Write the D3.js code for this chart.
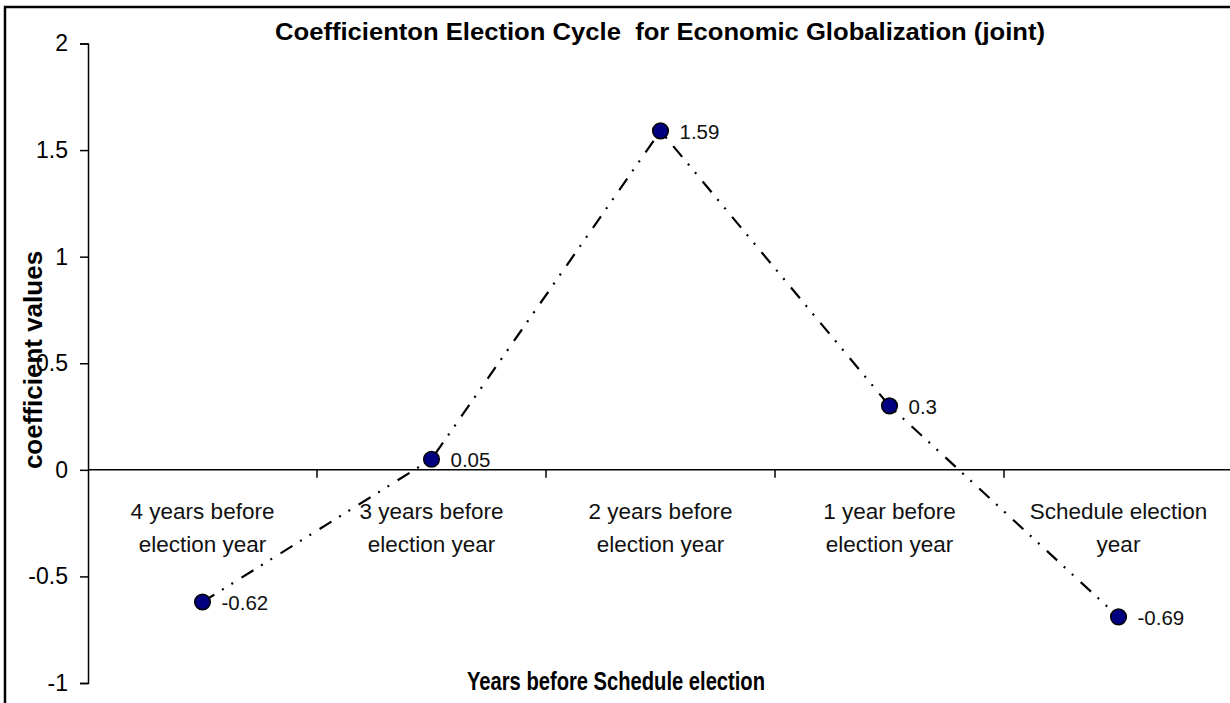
<!DOCTYPE html>
<html>
<head>
<meta charset="utf-8">
<script src="https://cdn.jsdelivr.net/npm/d3@7"></script>
<style>
  body { margin: 0; background: #fff; }
  svg { display: block; font-family: Arial, "Liberation Sans", sans-serif; }
</style>
</head>
<body>
<svg id="chart" width="1230" height="703"></svg>
<script>
const title = "Coefficienton Election Cycle  for Economic Globalization (joint)";
const xTitle = "Years before Schedule election";
const yTitle = "coefficient values";
const categories = [
  ["4 years before", "election year"],
  ["3 years before", "election year"],
  ["2 years before", "election year"],
  ["1 year before", "election year"],
  ["Schedule election", "year"]
];
const values = [-0.62, 0.05, 1.59, 0.3, -0.69];
const valueLabels = ["-0.62", "0.05", "1.59", "0.3", "-0.69"];
const yTicks = [-1, -0.5, 0, 0.5, 1, 1.5, 2];

const svg = d3.select("#chart");

// frame
svg.append("rect").attr("x", 5).attr("y", 7).attr("width", 1240).attr("height", 720)
  .attr("fill", "#fff").attr("stroke", "#000").attr("stroke-width", 2.5);

const x = d3.scaleBand().domain(d3.range(categories.length)).range([88, 1233]).padding(0);
const y = d3.scaleLinear().domain([-1, 2]).range([683, 43.5]);

// y axis
const yAxis = d3.axisLeft(y).tickValues(yTicks).tickSize(8).tickPadding(12)
  .tickFormat(d => String(d));
const gy = svg.append("g").attr("transform", "translate(88,0)").call(yAxis);
gy.select(".domain").attr("stroke", "#000").attr("stroke-width", 1.5);
gy.selectAll(".tick line").attr("stroke", "#000").attr("stroke-width", 1.5);
gy.selectAll(".tick text").attr("font-size", 23).attr("fill", "#000")
  .attr("font-family", "Arial, 'Liberation Sans', sans-serif");

// x axis at y=0 with tick marks at band boundaries
const xAxisLine = svg.append("g");
xAxisLine.append("line").attr("x1", x.range()[0]).attr("x2", x.range()[1])
  .attr("y1", y(0)).attr("y2", y(0)).attr("stroke", "#000").attr("stroke-width", 1.5);
const boundaries = d3.range(1, categories.length).map(i => x(i));
xAxisLine.selectAll("line.tk").data(boundaries).join("line").attr("class", "tk")
  .attr("x1", d => d).attr("x2", d => d).attr("y1", y(0)).attr("y2", y(0) + 8)
  .attr("stroke", "#000").attr("stroke-width", 1.5);

// category labels
const catG = svg.append("g");
categories.forEach((lines, i) => {
  const t = catG.append("text").attr("text-anchor", "middle").attr("font-size", 22.5)
    .attr("fill", "#111");
  lines.forEach((ln, j) => {
    t.append("tspan").attr("x", x(i) + x.bandwidth() / 2).attr("y", 519 + j * 33).text(ln);
  });
});

// line
const line = d3.line().x((d, i) => x(i) + x.bandwidth() / 2).y(d => y(d));
svg.append("path").datum(values).attr("d", line).attr("fill", "none")
  .attr("stroke", "#000").attr("stroke-width", 2.2)
  .attr("stroke-dasharray", "14,9,2,9,2,10");

// markers
svg.selectAll("circle.pt").data(values).join("circle").attr("class", "pt")
  .attr("cx", (d, i) => x(i) + x.bandwidth() / 2).attr("cy", d => y(d)).attr("r", 7.8)
  .attr("fill", "#000080").attr("stroke", "#000").attr("stroke-width", 1.5);

// data labels
svg.selectAll("text.dl").data(values).join("text").attr("class", "dl")
  .attr("x", (d, i) => x(i) + x.bandwidth() / 2 + 19).attr("y", d => y(d) + 8)
  .attr("font-size", 20.5).attr("fill", "#111").text((d, i) => valueLabels[i]);

// title
svg.append("text").attr("x", 660).attr("y", 40).attr("text-anchor", "middle")
  .attr("font-size", 23).attr("font-weight", "bold").style("white-space", "pre")
  .attr("textLength", 770).attr("lengthAdjust", "spacingAndGlyphs")
  .text(title);

// x title
svg.append("text").attr("x", 616).attr("y", 690).attr("text-anchor", "middle")
  .attr("font-size", 25).attr("font-weight", "bold")
  .attr("textLength", 298).attr("lengthAdjust", "spacingAndGlyphs")
  .text(xTitle);

// y title
svg.append("text").attr("transform", "translate(42,360) rotate(-90)")
  .attr("text-anchor", "middle").attr("font-size", 26).attr("font-weight", "bold")
  .text(yTitle);
</script>
</body>
</html>
